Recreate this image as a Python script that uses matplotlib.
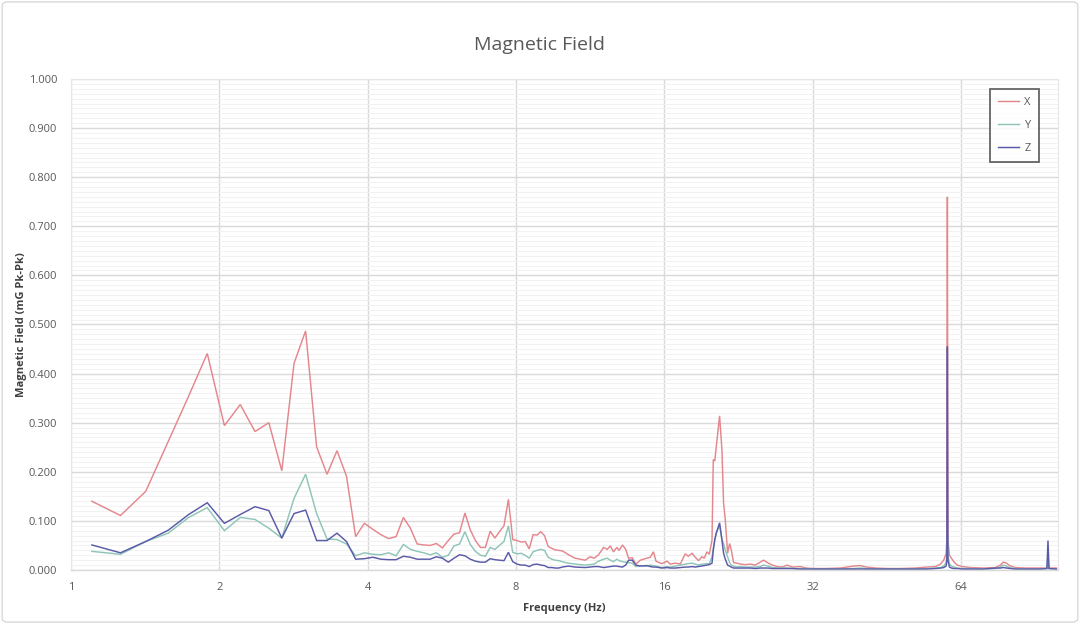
import matplotlib
matplotlib.use("Agg")
import matplotlib.pyplot as plt
from matplotlib.ticker import FixedLocator, MultipleLocator, FormatStrFormatter
from matplotlib.patches import FancyBboxPatch

plt.rcParams['font.family'] = ['Open Sans', 'DejaVu Sans']

# Frequencies (Hz) shared by the three series
freq = [1.1025, 1.26, 1.4175, 1.575, 1.7325, 1.89, 2.0475, 2.205, 2.3625, 2.52,
        2.6775, 2.835, 2.9925, 3.15, 3.3075, 3.465, 3.6225, 3.78, 3.9375, 4.095,
        4.2525, 4.41, 4.5675, 4.725, 4.8825, 5.04, 5.1975, 5.355, 5.5125, 5.67,
        5.8275, 5.985, 6.1425, 6.3, 6.4575, 6.615, 6.7725, 6.93, 7.0875, 7.245,
        7.4025, 7.56, 7.7175, 7.875, 8.0325, 8.19, 8.3475, 8.505, 8.6625, 8.82,
        8.9775, 9.135, 9.2925, 9.45, 9.6075, 9.765, 9.9225, 10.08,
        10.22, 10.54, 11.05, 11.31, 11.52, 11.76, 12.04, 12.25, 12.42, 12.61,
        12.81, 12.95, 13.15, 13.35, 13.53, 13.76, 14.00, 14.29, 14.74, 14.97,
        15.20, 15.38, 15.81, 16.19, 16.44, 16.83, 17.23, 17.63, 17.88, 18.20,
        18.48, 18.76, 19.06, 19.27, 19.51, 19.73, 19.98, 20.10, 20.24, 20.38,
        20.70, 20.93, 21.09, 21.26, 21.49, 21.69, 21.86, 22.10, 22.48, 22.80,
        23.34, 23.89, 24.45, 25.03, 25.42, 25.99, 26.48, 27.07, 27.75, 28.37,
        29.08, 30.18, 31.04, 32.08, 33.93, 36.39, 38.73, 39.96, 41.10, 42.86,
        45.27, 48.17, 51.66, 54.58, 56.74, 58.08, 58.98, 59.65, 59.85, 60.00,
        60.15, 60.58, 61.15, 61.81, 62.80, 64.36, 66.82, 71.0, 75.10, 76.87,
        77.85, 79.06, 80.54, 82.45, 86.38, 92.68, 95.53, 96.00, 96.45, 99.88]

x_vals = [0.140, 0.111, 0.160, 0.262, 0.354, 0.441, 0.294, 0.337, 0.282, 0.300,
          0.202, 0.421, 0.487, 0.251, 0.195, 0.243, 0.191, 0.068, 0.095, 0.083,
          0.072, 0.064, 0.068, 0.107, 0.085, 0.053, 0.051, 0.050, 0.054, 0.045,
          0.060, 0.073, 0.076, 0.116, 0.082, 0.060, 0.046, 0.046, 0.079, 0.065,
          0.078, 0.090, 0.144, 0.062, 0.060, 0.057, 0.058, 0.043, 0.072, 0.071,
          0.078, 0.070, 0.048, 0.044, 0.041, 0.040, 0.039, 0.035,
          0.031, 0.024, 0.020, 0.027, 0.024, 0.031, 0.046, 0.042, 0.049, 0.037,
          0.046, 0.040, 0.051, 0.042, 0.024, 0.025, 0.012, 0.020, 0.024, 0.026,
          0.037, 0.018, 0.013, 0.018, 0.012, 0.014, 0.012, 0.033, 0.028, 0.034,
          0.026, 0.019, 0.027, 0.024, 0.037, 0.032, 0.061, 0.225, 0.222, 0.250,
          0.314, 0.244, 0.136, 0.102, 0.034, 0.054, 0.041, 0.015, 0.014, 0.012,
          0.011, 0.012, 0.010, 0.016, 0.020, 0.014, 0.010, 0.007, 0.006, 0.010,
          0.006, 0.007, 0.004, 0.003, 0.003, 0.004, 0.008, 0.009, 0.006, 0.004,
          0.003, 0.003, 0.004, 0.006, 0.007, 0.012, 0.020, 0.034, 0.060, 0.760,
          0.060, 0.030, 0.024, 0.017, 0.010, 0.007, 0.005, 0.004, 0.005, 0.010,
          0.016, 0.014, 0.008, 0.005, 0.004, 0.004, 0.004, 0.020, 0.004, 0.004]

y_vals = [0.038, 0.032, 0.058, 0.075, 0.107, 0.127, 0.080, 0.107, 0.103, 0.085,
          0.065, 0.146, 0.195, 0.115, 0.063, 0.062, 0.053, 0.029, 0.035, 0.032,
          0.031, 0.035, 0.029, 0.052, 0.042, 0.038, 0.035, 0.031, 0.035, 0.026,
          0.030, 0.049, 0.053, 0.078, 0.052, 0.038, 0.030, 0.028, 0.046, 0.042,
          0.050, 0.058, 0.090, 0.036, 0.033, 0.034, 0.030, 0.024, 0.037, 0.040,
          0.042, 0.040, 0.026, 0.022, 0.020, 0.019, 0.017, 0.015,
          0.014, 0.012, 0.010, 0.011, 0.012, 0.018, 0.022, 0.024, 0.020, 0.017,
          0.022, 0.019, 0.017, 0.016, 0.015, 0.014, 0.007, 0.009, 0.008, 0.010,
          0.009, 0.008, 0.005, 0.007, 0.006, 0.008, 0.010, 0.012, 0.013, 0.014,
          0.012, 0.010, 0.012, 0.012, 0.013, 0.013, 0.027, 0.045, 0.060, 0.075,
          0.091, 0.062, 0.054, 0.040, 0.027, 0.015, 0.010, 0.008, 0.006, 0.007,
          0.006, 0.006, 0.006, 0.007, 0.010, 0.008, 0.005, 0.004, 0.004, 0.004,
          0.003, 0.003, 0.003, 0.002, 0.002, 0.002, 0.003, 0.004, 0.003, 0.002,
          0.002, 0.002, 0.002, 0.003, 0.004, 0.005, 0.008, 0.015, 0.030, 0.071,
          0.030, 0.012, 0.008, 0.006, 0.004, 0.003, 0.003, 0.002, 0.003, 0.006,
          0.010, 0.008, 0.004, 0.003, 0.002, 0.002, 0.003, 0.030, 0.003, 0.002]

z_vals = [0.051, 0.035, 0.058, 0.081, 0.113, 0.137, 0.095, 0.113, 0.129, 0.121,
          0.065, 0.115, 0.122, 0.060, 0.060, 0.075, 0.058, 0.022, 0.023, 0.026,
          0.022, 0.021, 0.021, 0.028, 0.026, 0.022, 0.022, 0.022, 0.027, 0.024,
          0.016, 0.024, 0.031, 0.029, 0.022, 0.018, 0.016, 0.016, 0.023, 0.021,
          0.020, 0.019, 0.036, 0.017, 0.012, 0.010, 0.010, 0.007, 0.011, 0.012,
          0.010, 0.009, 0.005, 0.005, 0.004, 0.004, 0.006, 0.007,
          0.008, 0.006, 0.005, 0.006, 0.007, 0.007, 0.005, 0.006, 0.007, 0.008,
          0.008, 0.007, 0.006, 0.010, 0.020, 0.020, 0.010, 0.008, 0.009, 0.007,
          0.006, 0.006, 0.004, 0.005, 0.004, 0.004, 0.005, 0.006, 0.006, 0.007,
          0.006, 0.007, 0.008, 0.009, 0.010, 0.011, 0.014, 0.040, 0.062, 0.075,
          0.096, 0.061, 0.034, 0.022, 0.010, 0.008, 0.006, 0.004, 0.004, 0.004,
          0.004, 0.004, 0.003, 0.004, 0.004, 0.004, 0.003, 0.003, 0.003, 0.003,
          0.003, 0.002, 0.002, 0.002, 0.002, 0.002, 0.002, 0.002, 0.002, 0.002,
          0.002, 0.002, 0.002, 0.002, 0.003, 0.004, 0.005, 0.008, 0.020, 0.455,
          0.020, 0.006, 0.004, 0.003, 0.003, 0.002, 0.002, 0.002, 0.004, 0.004,
          0.005, 0.004, 0.003, 0.002, 0.002, 0.002, 0.003, 0.060, 0.003, 0.002]

series_names = ["X", "Y", "Z"]
series_colors = ["#E4878D", "#8EC5B8", "#5A5AA8"]

x_ticks = [1, 2, 4, 8, 16, 32, 64]
x_tick_labels = ["1", "2", "4", "8", "16", "32", "64"]

title = "Magnetic Field"
x_label = "Frequency (Hz)"
y_label = "Magnetic Field (mG Pk-Pk)"

W, H = 1080, 624
fig = plt.figure(figsize=(W / 100, H / 100), dpi=100)
ax = fig.add_axes([71 / W, 1 - 570 / H, (1058 - 71) / W, (570 - 79) / H])

for vals, name, col in zip([x_vals, y_vals, z_vals], series_names, series_colors):
    ax.plot(freq, vals, color=col, lw=1.05, label=name, solid_joinstyle='miter')

ax.set_xscale('log', base=2)
ax.set_xlim(1, 100.6)
ax.set_ylim(0, 1.0)
ax.xaxis.set_major_locator(FixedLocator(x_ticks))
ax.set_xticklabels(x_tick_labels)
ax.xaxis.set_minor_locator(FixedLocator([]))
ax.yaxis.set_major_locator(MultipleLocator(0.1))
ax.yaxis.set_minor_locator(MultipleLocator(0.01))
ax.yaxis.set_major_formatter(FormatStrFormatter('%.3f'))

ax.grid(which='major', axis='both', color='#D9D9D9', lw=1.0)
ax.grid(which='minor', axis='y', color='#F2F2F2', lw=0.7)
ax.set_axisbelow(True)
for s in ['top', 'right', 'left']:
    ax.spines[s].set_color('#E6E6E6')
    ax.spines[s].set_linewidth(0.8)
ax.spines['bottom'].set_color('#D9D9D9')
ax.spines['bottom'].set_linewidth(1.0)
ax.tick_params(which='both', length=0, labelsize=8, colors='#595959')
ax.tick_params(axis='y', pad=10)
ax.tick_params(axis='x', pad=9)

ax.set_xlabel(x_label, fontsize=8, fontweight='bold', color='#404040', labelpad=7)
ax.set_ylabel(y_label, fontsize=8, fontweight='bold', color='#404040', labelpad=1)
fig.text(0.5, 1 - 45 / H, title, ha='center', va='center', fontsize=14, color='#595959')

leg = ax.legend(loc='upper right', bbox_to_anchor=(1039 / W, 1 - 89 / H),
                bbox_transform=fig.transFigure, borderaxespad=0, fontsize=8,
                frameon=True, fancybox=False, handlelength=1.9, handletextpad=0.45,
                labelspacing=1.05, borderpad=0.75)
leg.get_frame().set_edgecolor('#404040')
leg.get_frame().set_linewidth(1.3)
for t in leg.get_texts():
    t.set_color('#595959')

border = FancyBboxPatch((0.002, 0.003), 0.996, 0.994, boxstyle='round,pad=0,rounding_size=0.006',
                        transform=fig.transFigure, fill=False, edgecolor='#D9D9D9', lw=1.0)
fig.patches.append(border)

fig.savefig('out.png', dpi=100)
